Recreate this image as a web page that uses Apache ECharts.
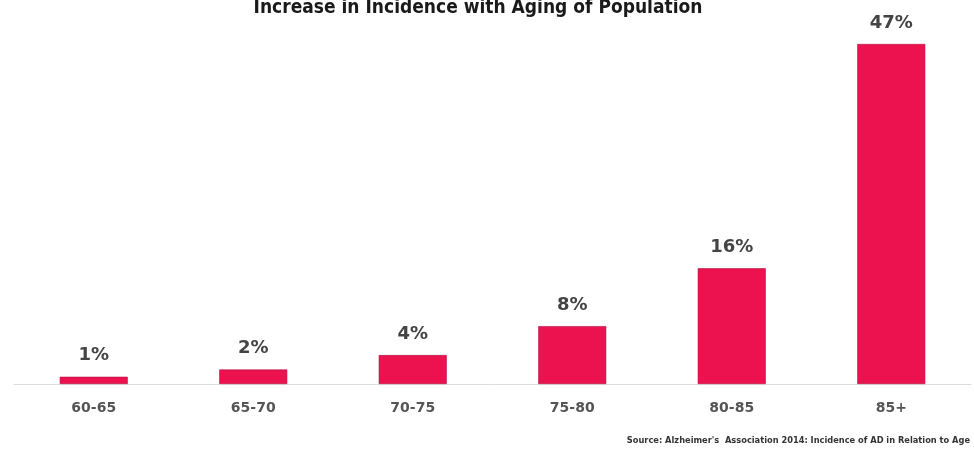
<!DOCTYPE html>
<html>
<head>
<meta charset="utf-8">
<script src="https://cdn.jsdelivr.net/npm/echarts@6/dist/echarts.min.js"></script>
<style>
  html, body { margin: 0; padding: 0; background: #fff; }
  #chart { width: 974px; height: 455px; }
</style>
</head>
<body>
<div id="chart"></div>
<script>
  var ageGroups = ['60-65', '65-70', '70-75', '75-80', '80-85', '85+'];
  var incidence = [1, 2, 4, 8, 16, 47];
  var titleText = 'Increase in Incidence with Aging of Population';
  var sourceText = "Source: Alzheimer's  Association 2014: Incidence of AD in Relation to Age";

  var chart = echarts.init(document.getElementById('chart'));
  chart.setOption({
    animation: false,
    title: [{
      text: titleText,
      left: 473,
      textAlign: 'center',
      top: -6,
      textStyle: { fontFamily: 'DejaVu Sans Condensed', fontSize: 19, fontWeight: 'bold', color: '#1a1a1a' }
    }, {
      text: sourceText,
      right: -1,
      top: 431,
      textStyle: { fontFamily: 'DejaVu Sans Condensed', fontSize: 9.2, fontWeight: 'bold', color: '#333' }
    }],
    grid: { left: 14, right: 3, top: 44, bottom: 71 },
    xAxis: {
      type: 'category',
      data: ageGroups,
      axisTick: { show: false },
      axisLine: { lineStyle: { color: '#dcdcdc', width: 1 } },
      axisLabel: { margin: 17, fontFamily: 'DejaVu Sans', fontWeight: 'bold', fontSize: 14, color: '#555' }
    },
    yAxis: {
      type: 'value',
      min: 0,
      max: 47,
      show: false,
      splitLine: { show: false }
    },
    series: [{
      type: 'bar',
      data: incidence,
      barWidth: 68,
      itemStyle: { color: '#ec1250', borderColor: '#b01040', borderWidth: 0.6 },
      label: {
        show: true,
        position: 'top',
        distance: 12,
        formatter: '{c}%',
        fontFamily: 'DejaVu Sans',
        fontWeight: 'bold',
        fontSize: 18,
        color: '#444'
      }
    }]
  });
</script>
</body>
</html>
